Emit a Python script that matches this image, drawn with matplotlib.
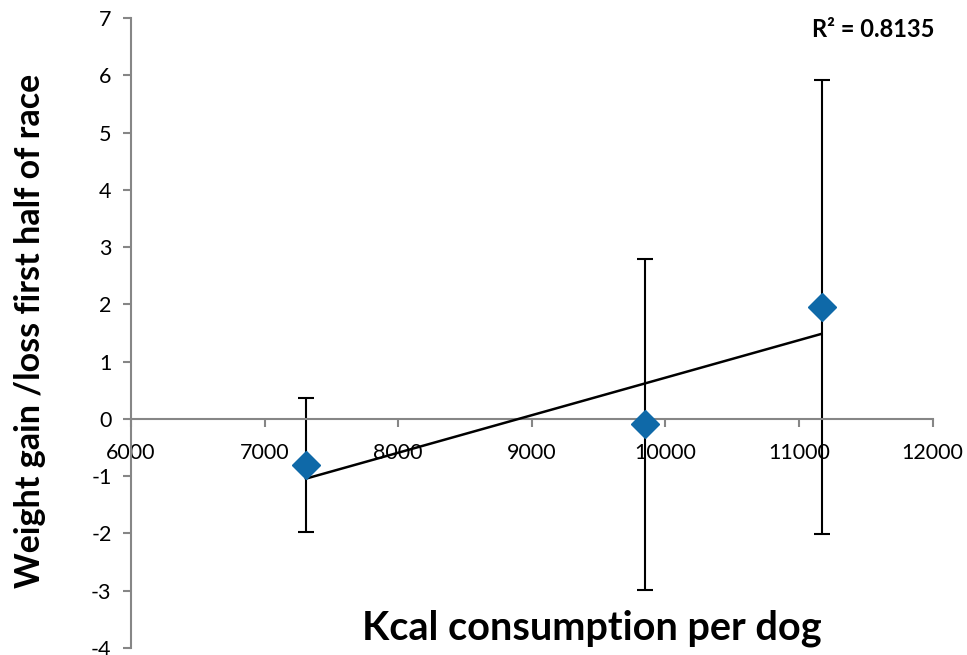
import numpy as np
import matplotlib.pyplot as plt

# mean kcal per dog vs mean weight change, with spread
kcal = [7309, 9844, 11168]
weight_change = [-0.80, -0.09, 1.95]
err_upper = [0.37, 2.80, 5.92]
err_lower = [-1.97, -2.98, -2.01]

x_ticks = [6000, 7000, 8000, 9000, 10000, 11000, 12000]
y_ticks = [-4, -3, -2, -1, 0, 1, 2, 3, 4, 5, 6, 7]

plt.rcParams['font.family'] = ['Lato', 'DejaVu Sans']
plt.rcParams['axes.unicode_minus'] = False

fig = plt.figure(figsize=(9.67, 6.55), dpi=100)
ax = fig.add_axes([0.1355, 0.0107, 0.829, 0.9618])

yerr = [np.array(weight_change) - np.array(err_lower),
        np.array(err_upper) - np.array(weight_change)]
ax.errorbar(kcal, weight_change, yerr=yerr, fmt='none', ecolor='black',
            elinewidth=1.5, capsize=6, capthick=1.5, zorder=2)

# linear trendline over the data range
slope, icpt = np.polyfit(kcal, weight_change, 1)
xs = np.array([min(kcal), max(kcal)])
ax.plot(xs, slope * xs + icpt, color='black', lw=1.8, zorder=3)

ax.plot(kcal, weight_change, 'D', color='#0f69a8', markersize=14, zorder=4)

ax.set_xlim(6000, 12000)
ax.set_ylim(-4, 7)
ax.set_xticks(x_ticks)
ax.set_yticks(y_ticks)

ax.spines['top'].set_visible(False)
ax.spines['right'].set_visible(False)
ax.spines['bottom'].set_position(('data', 0))
for s in ('left', 'bottom'):
    ax.spines[s].set_color('#868686')
    ax.spines[s].set_linewidth(1.5)

ax.tick_params(axis='both', colors='#868686', labelcolor='black',
               labelsize=15.5, direction='out', length=6, width=1.5)
ax.tick_params(axis='x', pad=11)
ax.tick_params(axis='y', pad=8)

fig.text(0.031, 0.495, 'Weight gain /loss first half of race', rotation=90,
         fontsize=24.5, fontweight='bold', ha='center', va='center')
fig.text(0.612, 0.041, 'Kcal consumption per dog', fontsize=28.5,
         fontweight='bold', ha='center', va='center')
fig.text(0.903, 0.955, 'R² = 0.8135', fontsize=17, fontweight='bold',
         ha='center', va='center')

fig.savefig('out.png', dpi=100)
